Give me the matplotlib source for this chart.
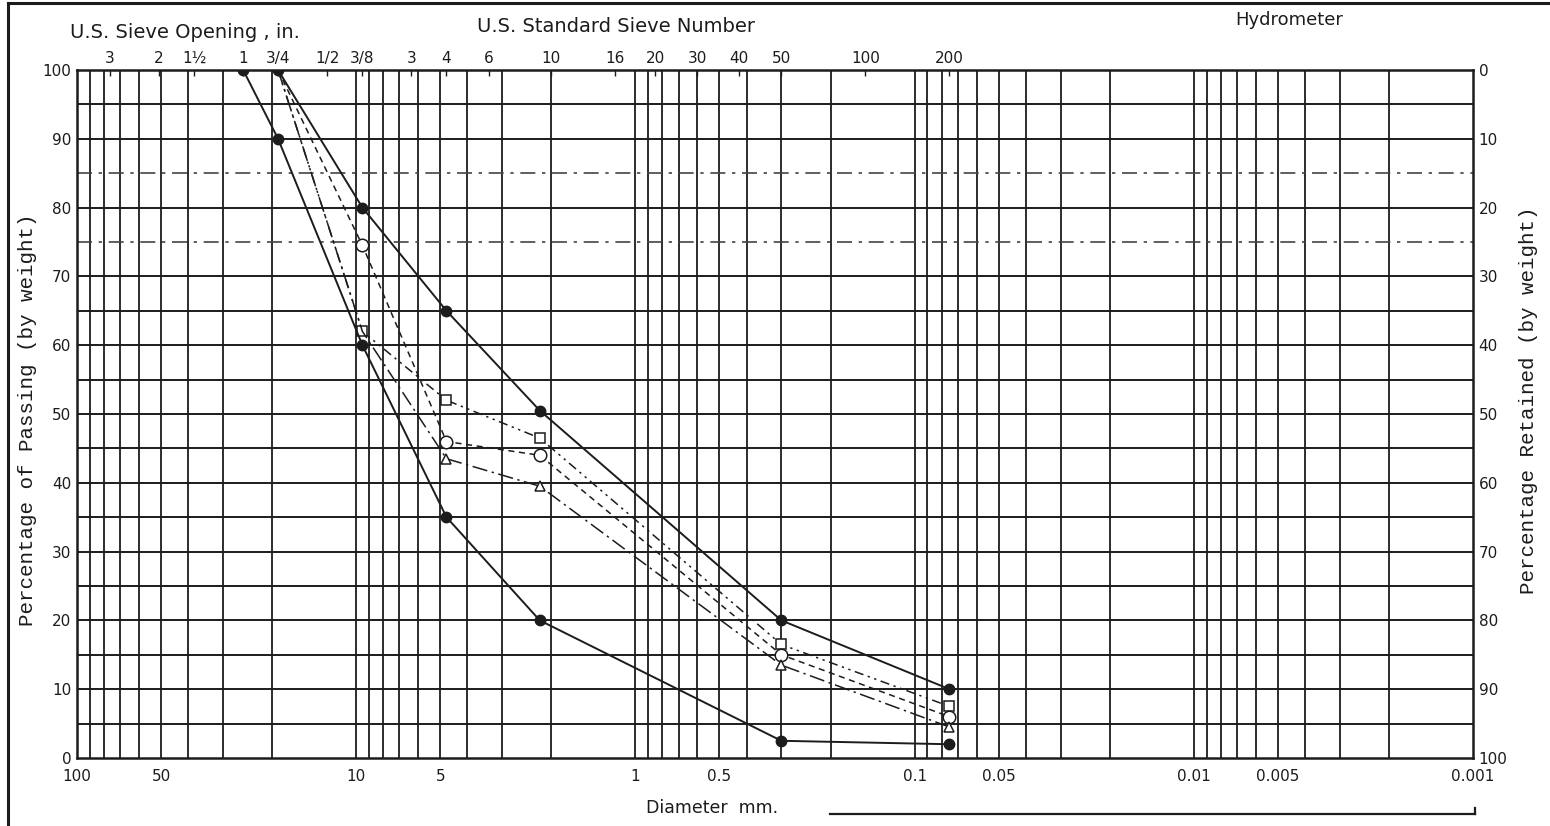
import numpy as np
import matplotlib.pyplot as plt
from matplotlib.ticker import FixedLocator, NullLocator
from matplotlib.lines import Line2D

# sieve columns the samples were plotted at (mm)
sieve_mm = [25.4, 19.05, 9.5, 4.75, 2.2, 0.3, 0.075]

# percent passing, envelope curves (filled dots)
upper_env = [np.nan, 100, 80, 65, 50.5, 20, 10]
lower_env = [100, 90, 60, 35, 20, 2.5, 2]

# percent passing, the three samples
square_pass = [np.nan, 100, 62, 52, 46.5, 16.5, 7.5]
circle_pass = [np.nan, 100, 74.5, 46, 44, 15, 6]
triangle_pass = [np.nan, 100, 62, 43.5, 39.5, 13.5, 4.5]

# top axis: sieve labels and their openings in mm
top_labels = ['3', '2', '1½', '1', '3/4', '1/2', '3/8', '3', '4', '6', '10',
              '16', '20', '30', '40', '50', '100', '200']
top_mm = [76.2, 50.8, 38.1, 25.4, 19.05, 12.7, 9.525, 6.35, 4.75, 3.35, 2.0,
          1.18, 0.85, 0.6, 0.425, 0.3, 0.15, 0.075]

# bottom axis
bottom_vals = [100, 50, 10, 5, 1, 0.5, 0.1, 0.05, 0.01, 0.005, 0.001]
bottom_labels = ['100', '50', '10', '5', '1', '0.5', '0.1', '0.05', '0.01', '0.005', '0.001']

ink = '#1c1c1c'
W, H = 1550, 826

fig = plt.figure(figsize=(15.5, 8.26), dpi=100)
fig.patch.set_facecolor('white')
ax = fig.add_axes([77 / W, 1 - 758 / H, (1473 - 77) / W, (758 - 70) / H])
ax.set_xscale('log')
ax.set_xlim(100, 0.001)
ax.set_ylim(0, 100)

# semi-log paper grid
for k in range(-3, 2):
    for m in range(1, 10):
        v = m * 10.0 ** k
        if 0.001 < v < 100:
            ax.axvline(v, color=ink, lw=1.3, zorder=1)
for p in range(5, 100, 5):
    if p in (75, 85):
        ax.axhline(p, color='#444444', lw=1.2, ls=(0, (9, 4, 2, 4)), zorder=1)
    else:
        ax.axhline(p, color=ink, lw=1.4, zorder=1)

for s in ax.spines.values():
    s.set_color(ink)
    s.set_linewidth(1.8)

ax.xaxis.set_major_locator(FixedLocator(bottom_vals))
ax.xaxis.set_minor_locator(NullLocator())
ax.set_xticklabels(bottom_labels)
ax.set_yticks(range(0, 101, 10))
ax.tick_params(axis='y', length=0, labelsize=11, colors=ink, pad=4)
ax.tick_params(axis='x', length=0, labelsize=11, colors=ink, pad=8)

# right axis: retained
ax2 = ax.twinx()
ax2.set_ylim(100, 0)
ax2.set_yticks(range(0, 101, 10))
ax2.tick_params(axis='y', length=0, labelsize=11, colors=ink, pad=4)
for s in ax2.spines.values():
    s.set_visible(False)

# top axis: sieve openings / numbers
ax3 = ax.twiny()
ax3.set_xscale('log')
ax3.set_xlim(100, 0.001)
ax3.xaxis.set_major_locator(FixedLocator(top_mm))
ax3.xaxis.set_minor_locator(NullLocator())
ax3.set_xticklabels(top_labels)
ax3.tick_params(axis='x', direction='in', length=4, width=1, labelsize=11, colors=ink, pad=3)
for s in ax3.spines.values():
    s.set_visible(False)

# curves
ax.plot(sieve_mm, square_pass, color=ink, lw=1.1, ls=(0, (6, 3, 1.5, 3, 1.5, 3)),
        marker='s', ms=7, mfc='white', mec=ink, mew=1.1, markevery=[2, 3, 4, 5, 6], zorder=3)
ax.plot(sieve_mm, circle_pass, color=ink, lw=1.1, ls=(0, (4, 3)),
        marker='o', ms=9, mfc='white', mec=ink, mew=1.1, markevery=[2, 3, 4, 5, 6], zorder=3)
ax.plot(sieve_mm, triangle_pass, color=ink, lw=1.1, ls=(0, (10, 3, 1.5, 3)),
        marker='^', ms=7, mfc='white', mec=ink, mew=1.1, markevery=[3, 4, 5, 6], zorder=3)
ax.plot(sieve_mm, upper_env, color=ink, lw=1.4, marker='o', ms=7.5, mfc=ink, mec=ink, zorder=4)
ax.plot(sieve_mm, lower_env, color=ink, lw=1.4, marker='o', ms=7.5, mfc=ink, mec=ink, zorder=4)

# headings and axis titles
fig.text(70 / W, 1 - 32 / H, 'U.S. Sieve Opening , in.', fontsize=14, color=ink, va='center')
fig.text(477 / W, 1 - 27 / H, 'U.S. Standard Sieve Number', fontsize=14, color=ink, va='center')
fig.text(1235 / W, 1 - 20 / H, 'Hydrometer', fontsize=13, color=ink, va='center')
fig.text(28 / W, 1 - 420 / H, 'Percentage of Passing (by weight)', family='Liberation Mono',
         fontsize=15, color=ink, rotation=90, ha='center', va='center')
fig.text(1528 / W, 1 - 400 / H, 'Percentage Retained (by weight)', family='Liberation Mono',
         fontsize=15, color=ink, rotation=90, ha='center', va='center')
fig.text(712 / W, 1 - 808 / H, 'Diameter  mm.', fontsize=12.5, color=ink, ha='center', va='center')

# sheet border
fig.add_artist(Line2D([8 / W, 8 / W], [0, 1 - 3 / H], color=ink, lw=2.2))
fig.add_artist(Line2D([8 / W, 1548 / W], [1 - 3 / H, 1 - 3 / H], color=ink, lw=2.2))
fig.add_artist(Line2D([830 / W, 1475 / W], [1 - 814 / H, 1 - 814 / H], color=ink, lw=1.6))
fig.add_artist(Line2D([1475 / W, 1475 / W], [1 - 814 / H, 1 - 808 / H], color=ink, lw=1.6))

fig.savefig('out.png', dpi=100, facecolor='white')
